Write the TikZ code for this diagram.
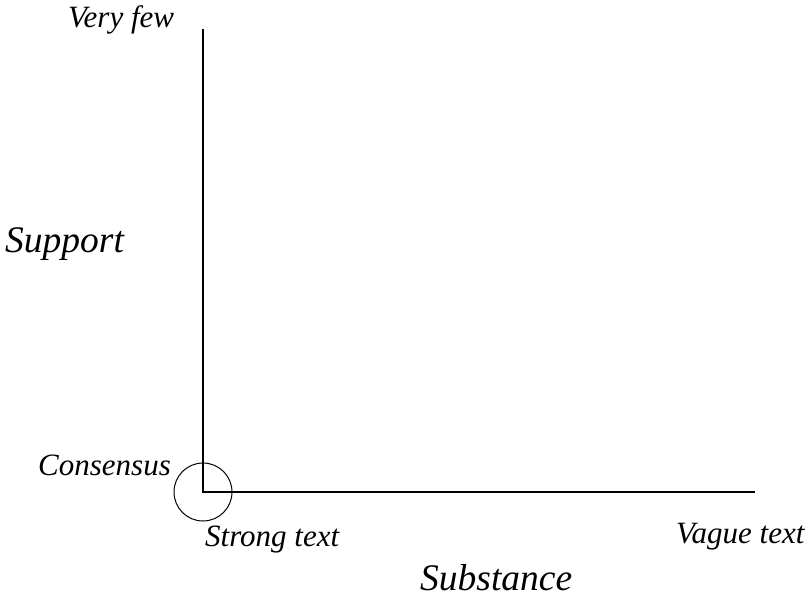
\documentclass[tikz,border=0pt]{standalone}
\usepackage{fontspec}
\setmainfont{Liberation Serif}
\tikzset{
  axis/.style={black, line width=1.2pt},
  lbl/.style={font=\fontsize{31}{34}\selectfont\itshape, inner sep=0pt, anchor=base west},
  biglbl/.style={font=\fontsize{37.5}{42}\selectfont\itshape, inner sep=0pt, anchor=base west}
}
\begin{document}
\begin{tikzpicture}[x=1pt,y=-1pt]
   \useasboundingbox (0,0) rectangle (807,598);
   % axes
   \coordinate (origin) at (203,492);
   \coordinate (ytop)   at (203,29);
   \coordinate (xend)   at (755,492);
   \draw[axis] (ytop) -- (origin) -- (xend);
   \draw[black, line width=1pt] (origin) circle (29);
   % labels
   \node[lbl]    (veryfew)   at ( 68, 27) {Very few};
   \node[biglbl] (support)   at (  5,252) {Support};
   \node[lbl]    (consensus) at ( 38,475) {Consensus};
   \node[lbl]    (strong)    at (205,546) {Strong text};
   \node[lbl]    (vague)     at (676,543) {Vague text};
   \node[biglbl] (substance) at (420,590) {Substance};
\end{tikzpicture}
\end{document}
